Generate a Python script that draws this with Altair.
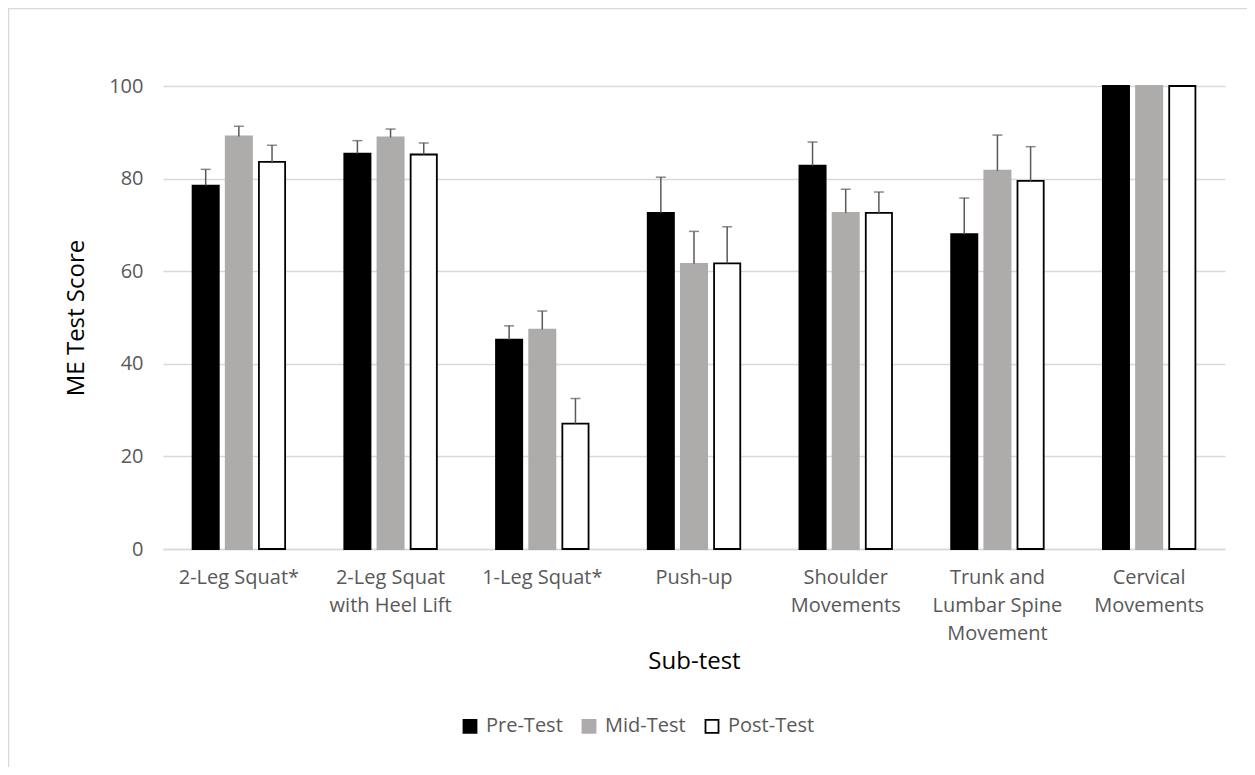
import altair as alt
import pandas as pd

categories = ["2-Leg Squat*", "2-Leg Squat|with Heel Lift", "1-Leg Squat*", "Push-up",
              "Shoulder|Movements", "Trunk and|Lumbar Spine|Movement", "Cervical|Movements"]
phases = ["Pre-Test", "Mid-Test", "Post-Test"]

pre = [78.5, 85.4, 45.2, 72.6, 82.8, 68.0, 100]
mid = [89.1, 88.9, 47.4, 61.6, 72.6, 81.7, 100]
post = [83.6, 85.2, 27.1, 61.7, 72.6, 79.5, 100]

pre_sd = [3.5, 2.8, 3.0, 7.7, 5.1, 7.8, 0]
mid_sd = [2.2, 1.8, 4.0, 7.0, 5.1, 7.7, 0]
post_sd = [3.6, 2.5, 5.4, 7.9, 4.5, 7.4, 0]

rows = []
for phase, vals, sds in zip(phases, [pre, mid, post], [pre_sd, mid_sd, post_sd]):
    for c, v, s in zip(categories, vals, sds):
        rows.append({"cat": c, "phase": phase, "value": v, "sd": s, "top": v + s})
df = pd.DataFrame(rows)

FONT = "Open Sans"
LABEL = "#595959"

x_enc = alt.X("cat:N", sort=categories,
              scale=alt.Scale(paddingInner=0.39, paddingOuter=0.195),
              axis=alt.Axis(title="Sub-test", labelExpr="split(datum.label, '|')",
                            labelAngle=0, labelFontSize=20, labelColor=LABEL, labelFont=FONT,
                            labelLineHeight=28, labelPadding=18, labelBaseline="top",
                            ticks=False, domainColor="#d9d9d9", domainWidth=1.5,
                            titleFontSize=24, titleFont=FONT, titleColor="#000000",
                            titleFontWeight="normal", titlePadding=6))
xo_enc = alt.XOffset("phase:N", sort=phases, scale=alt.Scale(paddingInner=0.21))

base = alt.Chart(df).encode(x=x_enc, xOffset=xo_enc)

y_scale = alt.Scale(domain=[0, 100])
y_axis = alt.Axis(title="ME Test Score", values=[0, 20, 40, 60, 80, 100], domain=False, ticks=False,
                  gridColor="#d9d9d9", gridWidth=1.5, labelFontSize=20, labelColor=LABEL,
                  labelFont=FONT, labelPadding=20, titleFontSize=24, titleFont=FONT,
                  titleColor="#000000", titleFontWeight="normal", titlePadding=20)

bars = base.mark_bar(strokeWidth=1.8).encode(
    y=alt.Y("value:Q", scale=y_scale, axis=y_axis),
    color=alt.Color("phase:N", sort=phases,
                    scale=alt.Scale(domain=phases, range=["#000000", "#AEABAB", "#FFFFFF"]),
                    legend=alt.Legend(title=None, orient="none", direction="horizontal",
                                      legendX=297, legendY=630, symbolType="square",
                                      symbolSize=169, symbolStrokeWidth=1.8,
                                      labelFontSize=20, labelColor=LABEL, labelFont=FONT,
                                      labelOffset=6, columnPadding=15)),
    stroke=alt.Stroke("phase:N", sort=phases,
                      scale=alt.Scale(domain=phases, range=["#000000", "#AEABAB", "#000000"])),
)

err = base.transform_filter("datum.sd > 0")
rules = err.mark_rule(color="#595959", strokeWidth=1.5).encode(y="value:Q", y2="top:Q")
caps = err.mark_tick(color="#595959", thickness=1.5, size=10).encode(y="top:Q")

frame = alt.Chart(pd.DataFrame({"k": [0]})).mark_rect(
    fill=None, stroke="#d9d9d9", strokeWidth=1.5
).encode(x=alt.value(-154.5), x2=alt.value(1300), y=alt.value(-77.5), y2=alt.value(900))

chart = alt.layer(frame, bars, rules, caps).properties(
    width=1062, height=463,
    autosize=alt.AutoSizeParams(type="none"),
    padding={"left": 155, "top": 78, "right": 22, "bottom": 218},
).configure(background="white", view=alt.ViewConfig(stroke=None))

chart.save("out.html", embed_options={"renderer": "svg", "actions": False})
